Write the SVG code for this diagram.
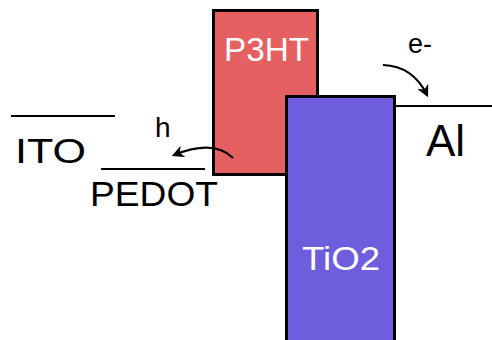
<svg xmlns="http://www.w3.org/2000/svg" width="492" height="340" viewBox="0 0 492 340">
<style>
.lbl{font-family:"Liberation Sans",Arial,sans-serif;fill:#000}
.wlbl{font-family:"Liberation Sans",Arial,sans-serif;fill:#fff}
.lvl{stroke:#000;stroke-width:2;fill:none}
.arr{stroke:#000;stroke-width:2.2;fill:none;marker-end:url(#ah)}
.box{stroke:#000;stroke-width:3}
</style>
<defs>
<marker id="ah" viewBox="0 0 10 10" refX="8" refY="5" markerWidth="5.5" markerHeight="5.5" orient="auto" markerUnits="strokeWidth">
<path d="M0,0 L10,5 L0,10 L3,5 z" fill="#000"/>
</marker>
</defs>
<rect width="492" height="340" fill="#fff"/>
<g id="ITO">
<line class="lvl" x1="11" y1="116" x2="115" y2="116"/>
<text class="lbl" x="15" y="163" font-size="35" textLength="71" lengthAdjust="spacingAndGlyphs">ITO</text>
</g>
<g id="PEDOT">
<line class="lvl" x1="101" y1="169" x2="205" y2="169"/>
<text class="lbl" x="90" y="206" font-size="35" textLength="128" lengthAdjust="spacingAndGlyphs">PEDOT</text>
</g>
<g id="P3HT">
<rect class="box" x="213.5" y="10.5" width="104" height="164" fill="#e56161"/>
<text class="wlbl" x="224" y="61" font-size="34" textLength="85" lengthAdjust="spacingAndGlyphs">P3HT</text>
</g>
<g id="TiO2">
<rect class="box" x="286.5" y="96.5" width="108" height="260" fill="#6e5ddc"/>
<text class="wlbl" x="302" y="270" font-size="34" textLength="78" lengthAdjust="spacingAndGlyphs">TiO2</text>
</g>
<g id="Al">
<line class="lvl" x1="395" y1="106" x2="492" y2="106"/>
<text class="lbl" x="426" y="156" font-size="44">Al</text>
</g>
<g id="connectors">
<path class="arr" d="M383,65 Q413,66 427,95"/>
<path class="arr" d="M233,158 Q214,139 174,155"/>
<text class="lbl" x="408" y="53" font-size="27">e-</text>
<text class="lbl" x="155" y="137" font-size="28">h</text>
</g>
</svg>
